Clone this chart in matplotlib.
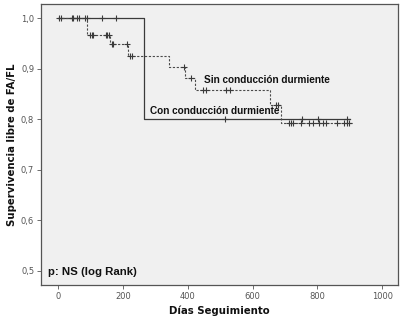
import numpy as np
import matplotlib
matplotlib.use("Agg")
import matplotlib.pyplot as plt
from matplotlib.ticker import FuncFormatter

# ---- data ----
# "Con conducción durmiente" (solid)
con_step_days = [0, 265]
con_step_surv = [1.0, 0.80]
con_end = 900
con_censor = [9, 47, 66, 88, 136, 180, 514, 754, 803, 892]

# "Sin conducción durmiente" (dashed)
sin_step_days = [0, 90, 160, 216, 343, 391, 421, 655, 688]
sin_step_surv = [1.0, 0.967, 0.948, 0.926, 0.903, 0.882, 0.858, 0.829, 0.793]
sin_end = 910
sin_censor = [4, 43, 59, 83, 98, 104, 109, 148, 152, 158, 166, 170, 213, 222, 227,
              388, 411, 447, 455, 519, 531, 671, 678, 712, 719, 724, 750, 775,
              786, 806, 816, 827, 859, 883, 890, 896]

xticks = [0, 200, 400, 600, 800, 1000]
yticks = [0.5, 0.6, 0.7, 0.8, 0.9, 1.0]

label_sin = "Sin conducción durmiente"
label_con = "Con conducción durmiente"
p_text = "p: NS (log Rank)"
xlabel = "Días Seguimiento"
ylabel = "Supervivencia libre de FA/FL"


def step_xy(days, surv, end):
    x = list(days) + [end]
    y = list(surv) + [surv[-1]]
    return np.array(x), np.array(y)


def surv_at(days, surv, t):
    idx = np.searchsorted(days, t, side="right") - 1
    return np.array(surv)[idx]


fig = plt.figure(figsize=(4.03, 3.36), dpi=100)
ax = fig.add_axes([0.102, 0.152, 0.886, 0.836])
ax.set_facecolor("#f0f0f0")

x, y = step_xy(con_step_days, con_step_surv, con_end)
ax.plot(x, y, drawstyle="steps-post", color="#3a3a3a", lw=0.9)
ax.plot(con_censor, surv_at(con_step_days, con_step_surv, np.array(con_censor)),
        ls="none", marker="+", ms=4, mew=0.8, color="#3a3a3a")

x, y = step_xy(sin_step_days, sin_step_surv, sin_end)
ax.plot(x, y, drawstyle="steps-post", color="#4a4a4a", lw=0.8, ls=(0, (2, 1.5)))
ax.plot(sin_censor, surv_at(sin_step_days, sin_step_surv, np.array(sin_censor)),
        ls="none", marker="+", ms=4, mew=0.8, color="#3a3a3a")

ax.set_xlim(-52, 1049)
ax.set_ylim(0.472, 1.028)
ax.set_xticks(xticks)
ax.set_yticks(yticks)
ax.yaxis.set_major_formatter(FuncFormatter(lambda v, p: f"{v:.1f}".replace(".", ",")))
ax.tick_params(labelsize=6, colors="#555555", length=3, width=0.6, labelcolor="#555555", pad=2)

for s in ax.spines.values():
    s.set_color("#555555")
    s.set_linewidth(0.9)

bold = dict(family="Liberation Sans", weight="bold", color="#111111")
ax.text(449, 0.878, label_sin, fontsize=7.2, **bold, va="center")
ax.text(283, 0.817, label_con, fontsize=7.2, **bold, va="center")
ax.text(-32, 0.497, p_text, fontsize=8.2, **bold, va="center")

ax.set_xlabel(xlabel, fontsize=7.3, weight="bold", family="DejaVu Sans", color="#111111", labelpad=3)
ax.set_ylabel(ylabel, fontsize=7.3, weight="bold", family="DejaVu Sans", color="#111111", labelpad=3)

fig.savefig("out.png", dpi=100, facecolor="white")
